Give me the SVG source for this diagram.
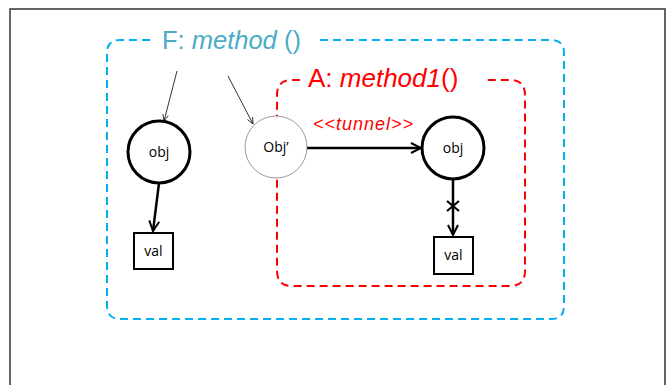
<svg xmlns="http://www.w3.org/2000/svg" width="670" height="385" viewBox="0 0 670 385">
<defs>
<style>
.lbl{font-family:"Open Sans","DejaVu Sans",sans-serif;font-size:14px;fill:#000;text-anchor:middle}
.title{font-family:"Liberation Sans",Arial,sans-serif}
.thick{fill:#fff;stroke:#000;stroke-width:3}
.box{fill:#fff;stroke:#000;stroke-width:2}
.conn{stroke:#000;stroke-width:2.5;fill:none}
.thin{stroke:#000;stroke-width:0.8;fill:none}
</style>
<marker id="open" viewBox="0 0 10 10" refX="9" refY="5" markerWidth="5" markerHeight="5" orient="auto" markerUnits="strokeWidth">
<path d="M1,1 L9,5 L1,9" fill="none" stroke="#000" stroke-width="1.6"/>
</marker>
<marker id="openthin" viewBox="0 0 10 10" refX="9" refY="5" markerWidth="10" markerHeight="10" orient="auto" markerUnits="strokeWidth">
<path d="M1,1.5 L9,5 L1,8.5" fill="none" stroke="#000" stroke-width="0.9"/>
</marker>
</defs>
<rect x="0" y="0" width="670" height="385" fill="#fff"/>
<rect x="10" y="9" width="655" height="400" fill="#fff" stroke="#333" stroke-width="1.5"/>

<g id="frameF">
<path d="M150,40 H120 Q107,40 107,53 V306 Q107,319 120,319 H551 Q564,319 564,306 V53 Q564,40 551,40 H320" fill="none" stroke="#00B0F0" stroke-width="2" stroke-dasharray="8,5"/>
<text class="title" x="162" y="49" font-size="25.5" fill="#4BACC6">F: <tspan font-style="italic">method</tspan> ()</text>
</g>

<g id="frameA">
<path d="M300,80 H292 Q277,80 277,95 V271 Q277,286 292,286 H510 Q525,286 525,271 V95 Q525,80 510,80 H485" fill="none" stroke="#FF0000" stroke-width="2" stroke-dasharray="8,5"/>
<text class="title" x="308" y="87" font-size="26" fill="#FF0000">A: <tspan font-style="italic">method1</tspan>()</text>
</g>

<g id="connectors">
<line class="thin" x1="177" y1="71" x2="164" y2="121" marker-end="url(#openthin)"/>
<line class="thin" x1="228" y1="76" x2="253" y2="124" marker-end="url(#openthin)"/>
<line class="conn" x1="307" y1="148" x2="421" y2="148" marker-end="url(#open)"/>
<text x="313" y="130" font-family="Liberation Sans,Arial,sans-serif" font-size="18" font-style="italic" letter-spacing="1" fill="#FF0000">&lt;&lt;tunnel&gt;&gt;</text>
<line class="conn" x1="159" y1="183" x2="153" y2="231" marker-end="url(#open)"/>
<line class="conn" x1="453" y1="179" x2="453" y2="235" marker-end="url(#open)"/>
<g stroke="#000" stroke-width="2.2">
<line x1="447" y1="201" x2="459" y2="211"/>
<line x1="447" y1="211" x2="459" y2="201"/>
</g>
</g>

<g id="objL">
<circle class="thick" cx="159" cy="152" r="31"/>
<text class="lbl" x="159" y="157">obj</text>
</g>
<g id="objP">
<circle cx="276" cy="147" r="31" fill="#fff" stroke="#808080" stroke-width="0.8"/>
<text class="lbl" x="276" y="152">Obj’</text>
</g>
<g id="objR">
<circle class="thick" cx="453" cy="148" r="31"/>
<text class="lbl" x="453" y="153">obj</text>
</g>
<g id="valL">
<rect class="box" x="134" y="233" width="39" height="36"/>
<text class="lbl" x="153.5" y="256">val</text>
</g>
<g id="valR">
<rect class="box" x="434" y="237" width="39" height="37"/>
<text class="lbl" x="453.5" y="260">val</text>
</g>
</svg>
